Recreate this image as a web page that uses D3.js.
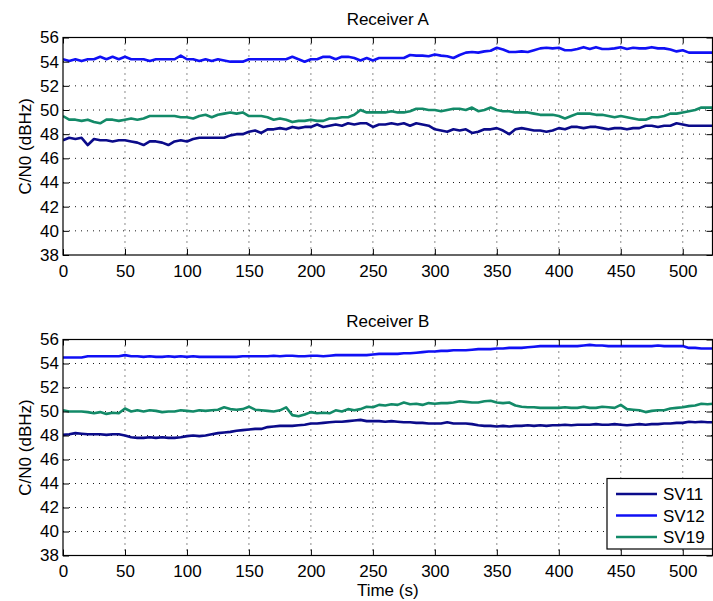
<!DOCTYPE html>
<html>
<head>
<meta charset="utf-8">
<script src="https://cdn.jsdelivr.net/npm/d3@7"></script>
<style>
	body { margin: 0; background: #fff; }
	svg { display: block; font-family: "Liberation Sans", Arial, sans-serif; }
	.axis text { font-size: 17px; fill: #000; }
	.axis line { stroke: #000; }
	.grid line { stroke: #000; stroke-width: 1; stroke-dasharray: 1,5; opacity: 0.9; }
	.title, .axis-label, .legend-label { font-size: 17px; fill: #000; }
</style>
</head>
<body>
<div id="chart"></div>
<script>
// sample times (s), one every 5 s
const time = d3.range(0, 526, 5);
const xTicks = [0, 50, 100, 150, 200, 250, 300, 350, 400, 450, 500];
const yTicks = [38, 40, 42, 44, 46, 48, 50, 52, 54, 56];
const satellites = ['SV11', 'SV12', 'SV19'];

// Receiver A, C/N0 in dBHz
const rxA_SV11 = [
	47.5, 47.7, 47.6, 47.7, 47.1, 47.6, 47.5, 47.5, 47.4, 47.5,
	47.5, 47.4, 47.3, 47.1, 47.4, 47.4, 47.3, 47.1, 47.4, 47.5,
	47.4, 47.6, 47.7, 47.7, 47.7, 47.7, 47.7, 47.9, 48.0, 48.0,
	48.2, 48.3, 48.1, 48.4, 48.4, 48.5, 48.4, 48.6, 48.5, 48.6,
	48.6, 48.8, 48.6, 48.7, 48.8, 48.7, 48.9, 48.8, 48.9, 48.9,
	48.6, 48.8, 48.8, 48.9, 48.8, 48.9, 48.7, 48.9, 48.8, 48.7,
	48.4, 48.3, 48.2, 48.4, 48.3, 48.4, 48.1, 48.2, 48.4, 48.4,
	48.5, 48.3, 48.0, 48.4, 48.5, 48.4, 48.3, 48.3, 48.2, 48.3,
	48.5, 48.4, 48.6, 48.6, 48.5, 48.6, 48.6, 48.5, 48.4, 48.5,
	48.5, 48.4, 48.5, 48.5, 48.7, 48.7, 48.6, 48.7, 48.7, 48.9,
	48.8, 48.7, 48.7, 48.7, 48.7, 48.7
];
const rxA_SV12 = [
	54.2, 54.05, 54.2, 54.05, 54.2, 54.2, 54.4, 54.2, 54.4, 54.2,
	54.4, 54.2, 54.2, 54.2, 54.05, 54.2, 54.2, 54.2, 54.2, 54.5,
	54.2, 54.2, 54.05, 54.2, 54.05, 54.2, 54.1, 54.0, 54.0, 54.0,
	54.2, 54.2, 54.2, 54.2, 54.2, 54.2, 54.2, 54.4, 54.2, 54.0,
	54.2, 54.2, 54.4, 54.4, 54.2, 54.4, 54.4, 54.3, 54.1, 54.3,
	54.1, 54.3, 54.3, 54.3, 54.3, 54.3, 54.55, 54.5, 54.5, 54.45,
	54.6, 54.5, 54.45, 54.3, 54.55, 54.75, 54.8, 54.75, 54.85, 54.9,
	55.15, 55.0, 54.8, 54.8, 54.85, 54.8, 54.95, 55.1, 55.15, 55.1,
	55.15, 54.95, 54.95, 55.05, 55.2, 55.05, 55.2, 55.05, 55.05, 55.1,
	55.2, 55.05, 55.15, 55.1, 55.1, 55.2, 55.1, 55.1, 55.0, 54.85,
	54.95, 54.75, 54.75, 54.75, 54.75, 54.75
];
const rxA_SV19 = [
	49.5, 49.2, 49.2, 49.1, 49.2, 49.0, 48.9, 49.2, 49.2, 49.1,
	49.2, 49.3, 49.2, 49.3, 49.5, 49.5, 49.5, 49.5, 49.5, 49.4,
	49.4, 49.3, 49.5, 49.6, 49.4, 49.6, 49.7, 49.8, 49.7, 49.8,
	49.5, 49.5, 49.5, 49.4, 49.2, 49.3, 49.2, 49.0, 49.1, 49.1,
	49.2, 49.1, 49.1, 49.3, 49.3, 49.4, 49.4, 49.6, 50.0, 49.8,
	49.8, 49.8, 49.8, 49.9, 49.8, 49.8, 49.9, 50.1, 50.1, 50.0,
	50.0, 49.9, 50.0, 50.1, 50.1, 50.0, 50.2, 49.9, 50.0, 50.2,
	50.0, 49.9, 49.9, 49.8, 49.8, 49.8, 49.7, 49.6, 49.6, 49.6,
	49.5, 49.3, 49.5, 49.7, 49.7, 49.7, 49.6, 49.6, 49.5, 49.4,
	49.5, 49.4, 49.3, 49.2, 49.2, 49.4, 49.4, 49.5, 49.7, 49.7,
	49.8, 49.9, 50.0, 50.2, 50.2, 50.2
];

// Receiver B, C/N0 in dBHz
const rxB_SV11 = [
	48.05, 48.1, 48.2, 48.15, 48.1, 48.1, 48.1, 48.05, 48.1, 48.1,
	48.0, 47.85, 47.8, 47.8, 47.85, 47.8, 47.85, 47.8, 47.8, 47.85,
	47.95, 48.0, 47.95, 48.0, 48.1, 48.2, 48.25, 48.3, 48.4, 48.45,
	48.5, 48.55, 48.55, 48.7, 48.75, 48.8, 48.8, 48.8, 48.85, 48.9,
	49.0, 49.0, 49.05, 49.1, 49.15, 49.15, 49.2, 49.25, 49.3, 49.2,
	49.2, 49.2, 49.15, 49.2, 49.15, 49.1, 49.1, 49.05, 49.05, 49.0,
	49.0, 49.0, 49.1, 49.0, 49.0, 49.0, 48.95, 48.85, 48.8, 48.8,
	48.75, 48.8, 48.75, 48.8, 48.8, 48.85, 48.8, 48.85, 48.8, 48.85,
	48.85, 48.9, 48.85, 48.9, 48.9, 48.9, 48.95, 48.9, 48.9, 48.95,
	48.9, 48.85, 48.9, 48.95, 48.9, 48.95, 48.95, 49.0, 49.0, 49.05,
	49.05, 49.15, 49.1, 49.15, 49.1, 49.1
];
const rxB_SV12 = [
	54.5, 54.5, 54.5, 54.5, 54.6, 54.6, 54.6, 54.6, 54.6, 54.6,
	54.7, 54.6, 54.6, 54.55, 54.6, 54.55, 54.55, 54.6, 54.55, 54.6,
	54.55, 54.6, 54.55, 54.55, 54.55, 54.55, 54.55, 54.55, 54.55, 54.6,
	54.6, 54.6, 54.6, 54.6, 54.65, 54.6, 54.65, 54.65, 54.6, 54.6,
	54.65, 54.65, 54.6, 54.65, 54.7, 54.7, 54.7, 54.7, 54.7, 54.7,
	54.75, 54.8, 54.8, 54.8, 54.8, 54.85, 54.85, 54.9, 54.95, 55.0,
	55.0, 55.05, 55.05, 55.1, 55.1, 55.1, 55.15, 55.2, 55.2, 55.2,
	55.25, 55.25, 55.3, 55.3, 55.3, 55.35, 55.4, 55.45, 55.45, 55.45,
	55.45, 55.45, 55.45, 55.45, 55.5, 55.55, 55.5, 55.5, 55.45, 55.45,
	55.45, 55.45, 55.45, 55.45, 55.45, 55.45, 55.5, 55.45, 55.45, 55.45,
	55.45, 55.3, 55.3, 55.25, 55.25, 55.25
];
const rxB_SV19 = [
	50.1, 50.0, 50.0, 50.0, 49.95, 49.85, 49.95, 49.8, 49.9, 49.85,
	50.25, 50.0, 50.1, 50.0, 50.1, 50.05, 49.95, 50.0, 50.0, 50.1,
	50.05, 50.0, 50.1, 50.05, 50.1, 50.15, 50.35, 50.2, 50.15, 50.2,
	50.4, 50.15, 50.1, 50.05, 50.0, 50.1, 50.35, 49.7, 49.6, 49.75,
	49.95, 49.85, 49.9, 49.85, 50.1, 50.0, 50.2, 50.1, 50.2, 50.4,
	50.35, 50.55, 50.5, 50.6, 50.55, 50.75, 50.6, 50.65, 50.55, 50.7,
	50.65, 50.7, 50.7, 50.75, 50.85, 50.8, 50.75, 50.75, 50.85, 50.9,
	50.75, 50.7, 50.75, 50.5, 50.4, 50.35, 50.35, 50.3, 50.3, 50.3,
	50.3, 50.35, 50.3, 50.3, 50.4, 50.3, 50.3, 50.4, 50.35, 50.3,
	50.55, 50.2, 50.15, 50.1, 49.95, 50.05, 50.1, 50.1, 50.25, 50.3,
	50.35, 50.45, 50.5, 50.65, 50.6, 50.65
];

const panels = [
	{ title: 'Receiver A', values: [rxA_SV11, rxA_SV12, rxA_SV19], top: 37.5, bottom: 255, xLabel: null, legend: false },
	{ title: 'Receiver B', values: [rxB_SV11, rxB_SV12, rxB_SV19], top: 339.5, bottom: 555.5, xLabel: 'Time (s)', legend: true },
];

const width = 713;
const height = 601;
const left = 63;
const right = 712.5;
const tickLen = 6;

const colorScale = d3.scaleOrdinal()
	.domain(satellites)
	.range(['#0b0b8a', '#1010f5', '#138a68']);

const svg = d3.select('#chart').append('svg')
	.attr('width', width)
	.attr('height', height);

const x = d3.scaleLinear()
	.domain([0, 524])
	.range([left, right]);

panels.forEach((p, pi) => {
	const y = d3.scaleLinear()
		.domain([38, 56])
		.range([p.bottom, p.top]);

	const g = svg.append('g').attr('class', 'panel');

	g.append('clipPath')
		.attr('id', `clip${pi}`)
		.append('rect')
			.attr('x', left)
			.attr('y', p.top)
			.attr('width', right - left)
			.attr('height', p.bottom - p.top);

	// dotted grid
	const grid = g.append('g').attr('class', 'grid');
	grid.selectAll('.gx')
		.data(xTicks.filter(t => t > 0))
		.enter().append('line')
			.attr('x1', d => x(d))
			.attr('x2', d => x(d))
			.attr('y1', p.top)
			.attr('y2', p.bottom);
	grid.selectAll('.gy')
		.data(yTicks.filter(t => t > 38 && t < 56))
		.enter().append('line')
			.attr('x1', left)
			.attr('x2', right)
			.attr('y1', d => y(d))
			.attr('y2', d => y(d));

	// series
	const line = d3.line()
		.x(d => x(d.t))
		.y(d => y(d.v));
	const lines = g.append('g').attr('clip-path', `url(#clip${pi})`);
	satellites.forEach((sv, i) => {
		const pts = p.values[i].map((v, k) => ({ t: time[k], v })).filter(d => d.t !== undefined);
		lines.append('path')
			.datum(pts)
			.attr('fill', 'none')
			.attr('stroke', colorScale(sv))
			.attr('stroke-width', 2.6)
			.attr('stroke-linejoin', 'round')
			.attr('d', line);
	});

	// axes, ticks pointing inward
	g.append('g')
		.attr('class', 'axis')
		.attr('transform', `translate(0, ${p.bottom})`)
		.call(d3.axisBottom(x).tickValues(xTicks).tickSize(-tickLen).tickPadding(9.5).tickFormat(d3.format('d')))
		.call(a => a.select('.domain').remove());
	g.append('g')
		.attr('class', 'axis')
		.attr('transform', `translate(0, ${p.top})`)
		.call(d3.axisTop(x).tickValues(xTicks).tickSize(-tickLen).tickFormat(''))
		.call(a => a.select('.domain').remove());
	g.append('g')
		.attr('class', 'axis')
		.attr('transform', `translate(${left}, 0)`)
		.call(d3.axisLeft(y).tickValues(yTicks).tickSize(-tickLen).tickPadding(4).tickFormat(d3.format('d')))
		.call(a => a.select('.domain').remove());
	g.append('g')
		.attr('class', 'axis')
		.attr('transform', `translate(${right}, 0)`)
		.call(d3.axisRight(y).tickValues(yTicks).tickSize(-tickLen).tickFormat(''))
		.call(a => a.select('.domain').remove());

	// box
	g.append('rect')
		.attr('x', left)
		.attr('y', p.top)
		.attr('width', right - left)
		.attr('height', p.bottom - p.top)
		.attr('fill', 'none')
		.attr('stroke', '#000')
		.attr('stroke-width', 1.2);

	// labels
	g.append('text')
		.attr('class', 'title')
		.attr('x', (left + right) / 2)
		.attr('y', p.top - 13)
		.attr('text-anchor', 'middle')
		.text(p.title);
	g.append('text')
		.attr('class', 'axis-label')
		.attr('transform', `translate(31, ${(p.top + p.bottom) / 2}) rotate(-90)`)
		.attr('text-anchor', 'middle')
		.text('C/N0 (dBHz)');
	if (p.xLabel) {
		g.append('text')
			.attr('class', 'axis-label')
			.attr('x', (left + right) / 2)
			.attr('y', p.bottom + 40)
			.attr('text-anchor', 'middle')
			.text(p.xLabel);
	}

	// legend
	if (p.legend) {
		const lg = g.append('g').attr('transform', `translate(607, ${p.bottom - 77})`);
		lg.append('rect')
			.attr('width', right - 607)
			.attr('height', 70.5)
			.attr('fill', '#fff')
			.attr('stroke', '#000')
			.attr('stroke-width', 1.2);
		const items = lg.selectAll('.item')
			.data(satellites)
			.enter().append('g')
				.attr('class', 'item')
				.attr('transform', (d, i) => `translate(0, ${15.5 + i * 21.5})`);
		items.append('line')
			.attr('x1', 9)
			.attr('x2', 50)
			.attr('stroke', d => colorScale(d))
			.attr('stroke-width', 2.6);
		items.append('text')
			.attr('class', 'legend-label')
			.attr('x', 56)
			.attr('dy', '0.36em')
			.text(d => d);
	}
});
</script>
</body>
</html>
